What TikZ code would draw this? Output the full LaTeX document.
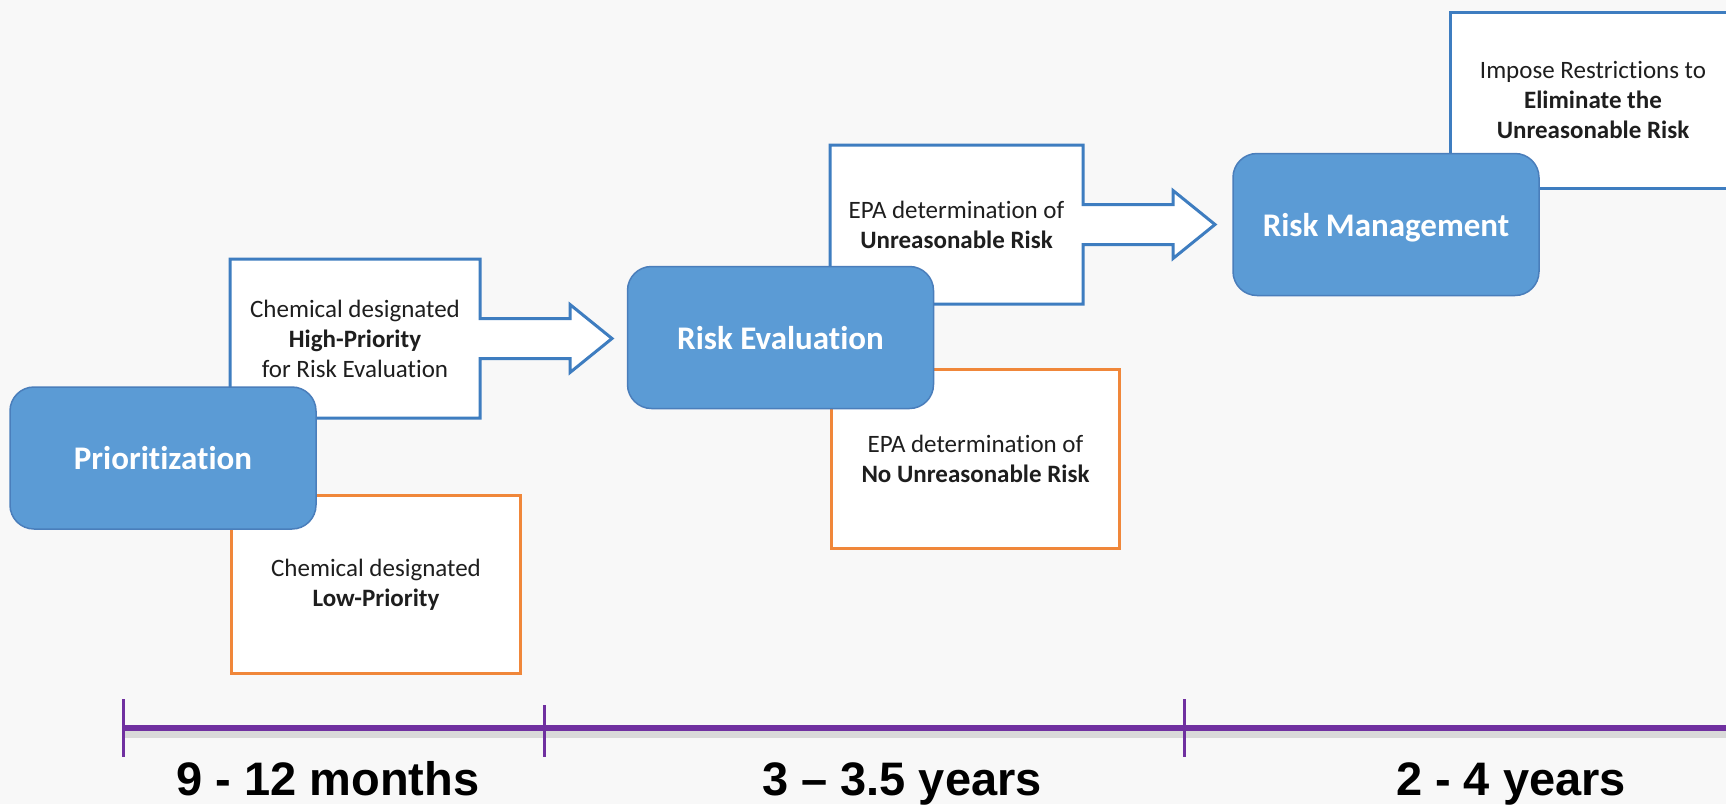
\documentclass[tikz,border=0pt]{standalone}
\usepackage{fontspec}
\setmainfont[Ligatures=NoCommon]{Carlito}
\newfontfamily\tlfont{Liberation Sans}
\usepackage{tikz}
\usetikzlibrary{positioning}
\usetikzlibrary{backgrounds}
\definecolor{stagefill}{HTML}{5B9BD5}
\definecolor{stageline}{HTML}{4A7EBB}
\definecolor{boxblue}{HTML}{3E7DC0}
\definecolor{boxorange}{HTML}{F0873A}
\definecolor{tlpurple}{HTML}{7030A0}
\definecolor{bggrey}{HTML}{F8F8F8}
\definecolor{txtdark}{HTML}{1E1E1E}
\tikzset{%
  mystage/.style={rectangle, rounded corners=24pt, draw=stageline, line width=1.5pt, fill=stagefill, text=white, text depth=0pt, minimum width=306pt, minimum height=142pt, font=\fontsize{33}{40}\selectfont\bfseries},
  mytext/.style={align=center, text=txtdark, inner sep=0pt, font=\fontsize{25}{30}\selectfont},
  mybluebox/.style={mytext, rectangle, draw=boxblue, line width=3pt, fill=white},
  myorangebox/.style={mytext, rectangle, draw=boxorange, line width=3pt, fill=white},
  myarrowbox/.style={draw=boxblue, line width=3pt, fill=white},
  mytick/.style={draw=tlpurple, line width=3pt},
  mylabel/.style={anchor=base, font=\tlfont\fontsize{47}{56}\selectfont\bfseries}
}
\begin{document}
\begin{tikzpicture}[x=1pt, y=-1pt]
  \useasboundingbox (0,0) rectangle (1726,804);

  % boxes beside the stages
  \node[mytext, minimum width=250pt, minimum height=159pt, outer sep=0pt] (hp) at (355,338.5) {Chemical designated\\\textbf{High-Priority}\\for Risk Evaluation};
  \node[myorangebox, minimum width=289pt, minimum height=178pt, below right=76pt and 0pt of hp.south west] (lp) {Chemical designated\\\textbf{Low-Priority}};
  \node[mytext, minimum width=253pt, minimum height=159pt, outer sep=0pt] (ur) at (956.5,224.5) {EPA determination of\\\textbf{Unreasonable Risk}};
  \node[myorangebox, minimum width=288pt, minimum height=179pt, below right=64pt and 0pt of ur.south west] (nur) {EPA determination of\\\textbf{No Unreasonable Risk}};
  \node[mybluebox, minimum width=286pt, minimum height=176pt] (restr) at (1593,100) {Impose Restrictions to\\\textbf{Eliminate the}\\\textbf{Unreasonable Risk}};

  % stages
  \node[mystage] (prio) at (163,458) {Prioritization};
  \node[mystage] (eval) at (780.5,337.5) {Risk Evaluation};
  \node[mystage] (mgmt) at (1386,224.5) {Risk Management};

  \begin{scope}[on background layer]
    \fill[bggrey] (0,0) rectangle (1726,804);
    \draw[myarrowbox] (hp.north west) -- (hp.north east) -- ([yshift=20pt]hp.east)
      -- ([xshift=90pt,yshift=20pt]hp.east) -- ([xshift=90pt,yshift=34pt]hp.east)
      -- ([xshift=132pt]hp.east) -- ([xshift=90pt,yshift=-34pt]hp.east)
      -- ([xshift=90pt,yshift=-20pt]hp.east) -- ([yshift=-20pt]hp.east)
      -- (hp.south east) -- (hp.south west) -- cycle;
    \draw[myarrowbox] (ur.north west) -- (ur.north east) -- ([yshift=20pt]ur.east)
      -- ([xshift=90pt,yshift=20pt]ur.east) -- ([xshift=90pt,yshift=34pt]ur.east)
      -- ([xshift=132pt]ur.east) -- ([xshift=90pt,yshift=-34pt]ur.east)
      -- ([xshift=90pt,yshift=-20pt]ur.east) -- ([yshift=-20pt]ur.east)
      -- (ur.south east) -- (ur.south west) -- cycle;
  \end{scope}

  % timeline
  \coordinate (t0) at (123,728);
  \coordinate (t1) at (544,728);
  \coordinate (t2) at (1184,728);
  \coordinate (tend) at (1740,728);
  \draw[black, opacity=0.12, line width=8pt] ([yshift=-6pt]t0) -- ([yshift=-6pt]tend);
  \draw[tlpurple, line width=6pt] (t0) -- (tend);
  \draw[mytick] ([yshift=29pt]t0) -- ([yshift=-29pt]t0);
  \draw[mytick] ([yshift=23pt]t1) -- ([yshift=-29pt]t1);
  \draw[mytick] ([yshift=29pt]t2) -- ([yshift=-29pt]t2);

  \node[mylabel] (lab1) at (328,795) {9 - 12 months};
  \node[mylabel] (lab2) at (902,795) {3 – 3.5 years};
  \node[mylabel] (lab3) at (1511,795) {2 - 4 years};
\end{tikzpicture}
\end{document}
